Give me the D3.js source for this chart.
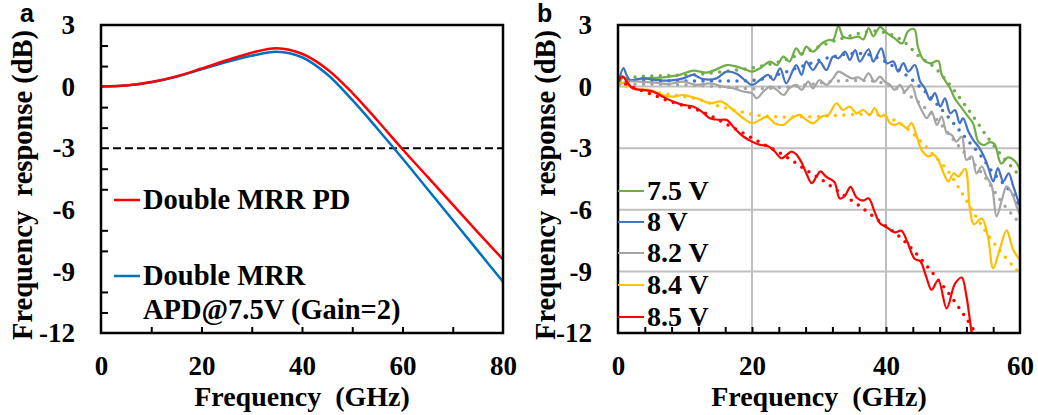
<!DOCTYPE html>
<html>
<head>
<meta charset="utf-8">
<script src="https://cdn.jsdelivr.net/npm/d3@7"></script>
<style>
  body { margin: 0; background: #fff; }
  text { font-family: "Liberation Serif", "Times New Roman", serif; font-weight: bold; fill: #000; }
</style>
</head>
<body>
<div id="chart"></div>
<script>
// ---- panel a : simulated response (GHz, dB)
var freqA = [0, 5, 10, 15, 20, 25, 30, 35, 40, 45, 50, 55, 60, 65, 70, 75, 80];
var pdA = [0, 0.05, 0.22, 0.5, 0.88, 1.28, 1.65, 1.87, 1.6, 0.85, -0.3, -1.65, -3.05, -4.4, -5.75, -7.1, -8.42];
var apdA = [0, 0.05, 0.21, 0.48, 0.84, 1.2, 1.5, 1.7, 1.43, 0.6, -0.65, -2.05, -3.5, -5.0, -6.5, -8.0, -9.5];
var legendA = ["Double MRR PD", "Double MRR", "APD@7.5V (Gain=2)"];

// ---- panel b : measured (solid) and fitted (dotted) responses, [GHz, dB]
var biasLabels = ["7.5 V", "8 V", "8.2 V", "8.4 V", "8.5 V"];

var meas75 = [[0.2,0.2],[0.8,0.45],[1.7,0.3],[3.7,0.4],[6.7,0.45],[9.2,0.57],[11.2,0.78],[13.2,0.68],[14.7,0.84],[16.2,1.05],[17.7,0.97],[19.2,0.81],[20,0.73],[21.2,0.89],[22.7,1.22],[23.7,1.05],[24.7,1.46],[25.6,1.22],[26.6,1.86],[27.4,1.54],[28.1,1.95],[29.1,1.7],[30.4,2.1],[31.4,2.27],[32.1,2.27],[32.9,2.95],[33.6,2.43],[34.6,2.35],[35.9,2.43],[36.6,2.3],[37.4,2.85],[38.1,2.45],[39.1,2.9],[40.1,2.62],[41.3,2.35],[42.4,2.1],[43.3,2.7],[44.2,2.8],[44.8,1.9],[45.6,1.3],[46.6,1.13],[47.8,1.25],[48.3,0.6],[49.6,-0.1],[50.3,-0.6],[51.1,-0.95],[52,-1.35],[53,-1.8],[53.8,-2.7],[54.6,-2.85],[55.5,-2.7],[56.2,-2.8],[57.2,-3.75],[58.2,-3.45],[59.3,-3.65],[60,-4.05]];
var fit75 = [[0,0.35],[3,0.48],[6,0.53],[9,0.55],[12,0.6],[15,0.7],[18,0.82],[21,0.97],[24,1.2],[27,1.55],[30,1.95],[33,2.3],[36,2.6],[38.5,2.7],[41,2.5],[43,2.1],[45,1.45],[47,1.0],[49,0.3],[51,-0.55],[53,-1.45],[55,-2.4],[57,-3.25],[59,-4.0],[60,-4.35]];

var meas80 = [[0.15,0.24],[0.8,0.9],[1.3,0.55],[1.8,0.32],[3.7,0.4],[5.7,0.32],[7.7,0.29],[9.7,0.4],[11.2,0.57],[12.7,0.36],[14.7,0.4],[16.2,0.73],[17.7,0.62],[19.2,0.24],[20,0.08],[21.2,0.32],[22.4,0.57],[23.2,0.32],[24.2,0.89],[25.1,0.16],[26.6,1.05],[27.4,0.57],[28.1,1.22],[29.1,0.81],[30.1,1.22],[31.1,0.81],[32.1,1.46],[32.9,1.38],[33.9,1.7],[34.6,1.3],[35.4,1.78],[36.1,1.22],[37.4,1.82],[38.1,1.22],[39.3,1.86],[40.1,1.14],[41.1,1.22],[41.8,0.73],[42.6,1.14],[43.3,0.73],[44.3,1.05],[45.1,0.24],[45.8,-0.08],[46.6,-0.65],[47.3,-0.32],[48.1,-0.97],[48.8,-0.57],[49.6,-1.3],[50.3,-1.14],[51,-1.78],[51.5,-1.54],[52.3,-2.19],[53,-2.59],[53.8,-2.92],[54.5,-3.32],[55.3,-3.97],[56,-4.62],[56.7,-3.97],[57.5,-4.62],[58.3,-4.22],[59,-4.86],[60,-5.84]];
var fit80 = [[0,0.3],[4,0.3],[8,0.28],[12,0.27],[16,0.27],[20,0.3],[22,0.4],[24,0.6],[26,0.82],[28,1.05],[30,1.28],[32,1.45],[34,1.58],[36,1.62],[38,1.5],[40,1.2],[42,0.8],[44,0.3],[46,-0.3],[48,-1.0],[50,-1.75],[52,-2.55],[54,-3.3],[56,-4.2],[58,-4.9],[59,-5.3],[60,-6.0]];

var meas82 = [[0.15,0.08],[1.2,0.24],[3.2,0.24],[5.7,0.19],[7.7,0.13],[9.7,0.24],[11.7,0.08],[13.7,0.16],[15.7,0],[17.2,-0.08],[18.7,-0.24],[20,-0.32],[20.7,-0.57],[21.7,-0.24],[22.7,0],[23.7,-0.16],[24.7,-0.41],[25.6,-0.08],[26.6,0.08],[27.4,-0.16],[28.4,0.24],[29.1,-0.08],[30.1,0.32],[31.1,0.08],[32.1,0.4],[32.9,0.73],[33.9,0.57],[34.9,0.4],[35.9,0.45],[36.6,0.32],[37.4,0.65],[38.3,0.24],[39.1,0.49],[39.8,0.24],[40.6,0.08],[41.3,-0.16],[42.1,0.08],[42.8,-0.24],[43.8,0.08],[44.6,-0.65],[45.3,-1.14],[46.1,-1.54],[46.8,-1.22],[47.6,-1.86],[48.3,-1.46],[49.1,-2.27],[49.8,-2.35],[50.5,-2.68],[51.3,-2.43],[52,-3.57],[52.8,-3.4],[53.5,-4.22],[54.3,-3.89],[55,-4.38],[55.8,-4.86],[56.5,-6.32],[57.3,-5.51],[58,-4.86],[58.8,-5.19],[59.5,-5.84],[60,-6.24]];
var fit82 = [[0,0.1],[4,0.12],[8,0.1],[12,0.05],[16,-0.02],[20,-0.1],[24,-0.05],[28,0.08],[32,0.25],[36,0.3],[39,0.22],[41,0.0],[43,-0.35],[45,-0.8],[47,-1.4],[49,-2.15],[51,-2.95],[53,-3.7],[55,-4.5],[57,-5.5],[59,-6.3],[60,-6.65]];

var meas84 = [[0.15,0.16],[1.2,0.16],[2.2,-0.08],[3.2,-0.16],[4.7,-0.16],[6.7,-0.41],[8.2,-0.49],[9.7,-0.41],[11.7,-0.57],[13.7,-0.81],[15.4,-0.73],[17.2,-1.14],[18.7,-1.54],[20,-1.78],[21.2,-1.62],[22.2,-1.46],[23.4,-1.78],[24.7,-1.86],[25.9,-1.54],[27.1,-1.38],[28.1,-1.62],[29.1,-1.78],[30.4,-1.46],[31.4,-1.38],[32.6,-0.81],[33.6,-1.14],[34.6,-0.97],[35.6,-1.3],[36.6,-1.14],[37.6,-1.38],[38.3,-1.05],[39.1,-1.46],[39.8,-1.38],[40.6,-1.78],[41.3,-1.86],[42.1,-1.78],[43.1,-2.03],[43.8,-1.78],[44.6,-2.43],[45.3,-3.08],[46.3,-3.4],[47.1,-3.32],[47.8,-3.57],[48.6,-4.22],[49.3,-4.62],[50.1,-4.22],[50.8,-4.38],[51.8,-4.0],[52.5,-5.9],[53.1,-6.7],[54.3,-6.42],[55.2,-7.3],[56,-8.85],[57,-7.9],[58,-7.0],[59,-7.96],[60,-8.45]];
var fit84 = [[0,0.1],[3,-0.1],[6,-0.3],[9,-0.45],[12,-0.62],[15,-0.95],[18,-1.2],[21,-1.4],[24,-1.47],[28,-1.47],[32,-1.42],[36,-1.35],[39,-1.38],[41,-1.6],[43,-2.0],[45,-2.6],[47,-3.3],[49,-4.0],[51,-5.0],[53,-6.1],[55,-7.1],[57,-8.0],[59,-8.75],[60,-9.1]];

var meas85 = [[0.15,0.32],[0.7,0.5],[1.2,0.3],[2.2,-0.08],[3.7,-0.16],[5.2,-0.24],[6.7,-0.49],[8.2,-0.73],[9.7,-0.89],[11.2,-0.97],[12.5,-1.22],[13.7,-1.54],[15.2,-1.62],[16.2,-1.62],[17.4,-2.03],[18.7,-2.43],[20,-2.68],[21.2,-2.84],[22.4,-2.9],[23.4,-3.16],[24.4,-3.49],[25.9,-3.17],[26.6,-3.3],[27.4,-3.7],[28.1,-4.22],[28.9,-4.7],[29.6,-4.4],[30.2,-4.13],[31.1,-4.4],[32.3,-4.65],[33.1,-5.45],[33.9,-5.3],[34.7,-4.88],[35.6,-5.4],[36.6,-5.55],[37.4,-5.44],[38.3,-6.1],[39.1,-6.65],[40.1,-6.85],[41.3,-7.1],[42.3,-7.02],[43.1,-7.5],[44.3,-8.4],[45.1,-8.5],[46,-9.25],[46.8,-9.9],[47.8,-9.42],[49.05,-10.8],[50.3,-9.6],[51.3,-9.3],[52,-10.2],[52.8,-12.0],[53.2,-12.6]];
var fit85 = [[0,0.3],[2,0.0],[4,-0.25],[6,-0.5],[8,-0.75],[10,-0.95],[12,-1.15],[14,-1.45],[16,-1.8],[18,-2.15],[20,-2.5],[22,-2.85],[24,-3.2],[26,-3.6],[28,-4.05],[30,-4.45],[32,-4.9],[34,-5.35],[36,-5.8],[38,-6.3],[40,-6.8],[42,-7.3],[44,-7.95],[46,-8.7],[48,-9.5],[50,-10.35],[52,-11.3],[54,-12.3]];

var yTicks = [3, 0, -3, -6, -9, -12];

// ---- drawing
var svg = d3.select("#chart").append("svg")
    .attr("width", 1038)
    .attr("height", 415);

var colorsB = ["#70AD47", "#4472C4", "#A5A5A5", "#FFC000", "#FF0000"];
var measB = [meas75, meas80, meas82, meas84, meas85];
var fitB = [fit75, fit80, fit82, fit84, fit85];

// plot area edges (shared by both panels)
var plotTop = 25, plotBottom = 333;

// tick labels, titles and panel letter for one panel
function drawFrame(g, x, y, xTicks, titleX, panelLetter, letterX) {
    var x0 = x.range()[0], x1 = x.range()[1];

    // x tick labels
    g.append("g")
        .attr("transform", `translate(0, ${plotBottom})`)
        .call(d3.axisBottom(x).tickValues(xTicks).tickSize(0).tickPadding(23).tickFormat(d => String(d)))
        .call(a => a.select(".domain").remove())
        .selectAll("text")
        .attr("fill", "#000")
        .style("font-family", "Liberation Serif").style("font-size", "27px").style("font-weight", "bold");

    // y tick labels
    g.append("g")
        .attr("transform", `translate(${x0}, 0)`)
        .call(d3.axisLeft(y).tickValues(yTicks).tickSize(0).tickPadding(26).tickFormat(d => String(d)))
        .call(a => a.select(".domain").remove())
        .selectAll("text")
        .attr("fill", "#000")
        .style("font-family", "Liberation Serif").style("font-size", "27px").style("font-weight", "bold");

    // axis titles
    g.append("text")
        .attr("x", (x0 + x1) / 2)
        .attr("y", 406)
        .attr("text-anchor", "middle")
        .style("font-size", "28px")
        .style("white-space", "pre")
        .text("Frequency  (GHz)");

    g.append("text")
        .attr("transform", `translate(${titleX}, 185) rotate(-90)`)
        .attr("text-anchor", "middle")
        .style("font-size", "28.5px")
        .style("white-space", "pre")
        .text("Frequency  response (dB)");

    g.append("text")
        .attr("x", letterX)
        .attr("y", 22)
        .style("font-family", "Liberation Sans, Arial, sans-serif")
        .style("font-size", "25px")
        .text(panelLetter);
}

// ================= panel a
var xA = d3.scaleLinear().domain([0, 80]).range([101, 503]);
var yA = d3.scaleLinear().domain([-12, 3]).range([plotBottom, plotTop]);
var gA = svg.append("g");

var lineA = d3.line()
    .x((d, i) => xA(freqA[i]))
    .y(d => yA(d))
    .curve(d3.curveCatmullRom);

// -3 dB reference
gA.append("line")
    .attr("x1", xA(0)).attr("x2", xA(80))
    .attr("y1", yA(-3)).attr("y2", yA(-3))
    .attr("stroke", "#000").attr("stroke-width", 2)
    .attr("stroke-dasharray", "8 4");

gA.append("path").datum(apdA)
    .attr("d", lineA).attr("fill", "none")
    .attr("stroke", "#0070C0").attr("stroke-width", 2.5);
gA.append("path").datum(pdA)
    .attr("d", lineA).attr("fill", "none")
    .attr("stroke", "#FF0000").attr("stroke-width", 2.5);

// inside ticks
gA.append("g")
    .attr("transform", `translate(0, ${plotBottom})`)
    .call(d3.axisBottom(xA).tickValues(d3.range(10, 80, 10)).tickSize(-6).tickFormat(""))
    .call(a => a.select(".domain").remove())
    .selectAll("line").attr("stroke-width", 2);
gA.append("g")
    .attr("transform", `translate(${xA(0)}, 0)`)
    .call(d3.axisLeft(yA).tickValues(d3.range(-11, 3, 1).filter(v => v % 3 != 0)).tickSize(-7).tickFormat(""))
    .call(a => a.select(".domain").remove())
    .selectAll("line").attr("stroke-width", 2);

gA.append("rect")
    .attr("x", xA(0)).attr("y", plotTop)
    .attr("width", xA(80) - xA(0)).attr("height", plotBottom - plotTop)
    .attr("fill", "none").attr("stroke", "#000").attr("stroke-width", 2.5);

// legend a
gA.append("line").attr("x1", 114).attr("x2", 140).attr("y1", 200).attr("y2", 200)
    .attr("stroke", "#FF0000").attr("stroke-width", 2.5);
gA.append("line").attr("x1", 114).attr("x2", 140).attr("y1", 276).attr("y2", 276)
    .attr("stroke", "#0070C0").attr("stroke-width", 2.5);
gA.append("text").attr("x", 143).attr("y", 209).style("font-size", "28.5px").text(legendA[0]);
gA.append("text").attr("x", 143).attr("y", 285).style("font-size", "28.5px").text(legendA[1]);
gA.append("text").attr("x", 143).attr("y", 319).style("font-size", "28.5px").text(legendA[2]);

drawFrame(gA, xA, yA, [0, 20, 40, 60, 80], 32, "a", 20);

// ================= panel b
var xB = d3.scaleLinear().domain([0, 60]).range([618, 1020]);
var yB = d3.scaleLinear().domain([-12, 3]).range([plotBottom, plotTop]);
var gB = svg.append("g");

svg.append("defs").append("clipPath").attr("id", "clipB")
    .append("rect")
    .attr("x", xB(0)).attr("y", plotTop)
    .attr("width", xB(60) - xB(0)).attr("height", plotBottom - plotTop);

// grid
gB.append("g").selectAll("line").data([0, -3, -6, -9]).join("line")
    .attr("x1", xB(0)).attr("x2", xB(60))
    .attr("y1", d => yB(d)).attr("y2", d => yB(d))
    .attr("stroke", "#BFBFBF").attr("stroke-width", 2);
gB.append("g").selectAll("line").data([20, 40]).join("line")
    .attr("x1", d => xB(d)).attr("x2", d => xB(d))
    .attr("y1", plotTop).attr("y2", plotBottom)
    .attr("stroke", "#BFBFBF").attr("stroke-width", 2);

var lineB = d3.line()
    .x(d => xB(d[0]))
    .y(d => yB(d[1]))
    .curve(d3.curveCatmullRom);

var plotB = gB.append("g").attr("clip-path", "url(#clipB)");
for (var k = 0; k < 5; k++) {
    plotB.append("path").datum(fitB[k])
        .attr("d", lineB).attr("fill", "none")
        .attr("stroke", colorsB[k]).attr("stroke-width", 3.5)
        .attr("stroke-linecap", "round")
        .attr("stroke-dasharray", "0 8.5");
    plotB.append("path").datum(measB[k])
        .attr("d", lineB).attr("fill", "none")
        .attr("stroke", colorsB[k]).attr("stroke-width", 2.2);
}

// inside x ticks every 4 GHz
gB.append("g")
    .attr("transform", `translate(0, ${plotBottom})`)
    .call(d3.axisBottom(xB).tickValues(d3.range(4, 60, 4)).tickSize(-6).tickFormat(""))
    .call(a => a.select(".domain").remove())
    .selectAll("line").attr("stroke-width", 2);

gB.append("rect")
    .attr("x", xB(0)).attr("y", plotTop)
    .attr("width", xB(60) - xB(0)).attr("height", plotBottom - plotTop)
    .attr("fill", "none").attr("stroke", "#000").attr("stroke-width", 2.5);

// legend b
var legY = [191, 222, 253, 285, 317];
biasLabels.forEach(function (lab, i) {
    gB.append("line").attr("x1", 618).attr("x2", 644)
        .attr("y1", legY[i]).attr("y2", legY[i])
        .attr("stroke", colorsB[i]).attr("stroke-width", 2);
    gB.append("text").attr("x", 647).attr("y", legY[i] + 9)
        .style("font-size", "28px").text(lab);
});

drawFrame(gB, xB, yB, [0, 20, 40, 60], 555, "b", 537);
</script>
</body>
</html>
